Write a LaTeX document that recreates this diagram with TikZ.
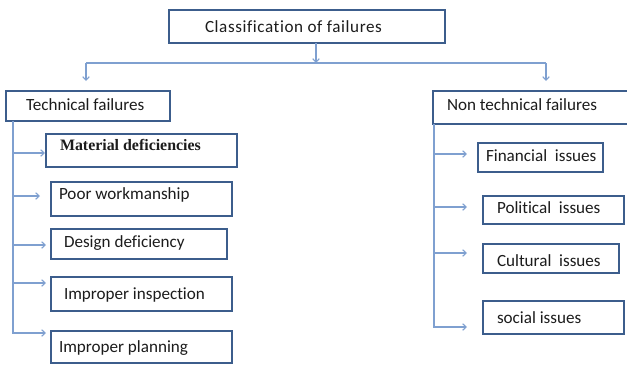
\documentclass[tikz,border=0pt]{standalone}
\usepackage{fontspec}
\setmainfont{Carlito}[Ligatures=NoCommon]
\newfontfamily\serifmat{Liberation Serif}
\usetikzlibrary{arrows.meta}
\definecolor{boxc}{HTML}{3C5D8C}
\definecolor{linec}{HTML}{7FA0D0}
\definecolor{txt}{HTML}{1C1C1C}
\newcommand\bt[2]{\makebox[#1pt][l]{#2}}
\begin{document}
\begin{tikzpicture}[x=1pt,y=-1pt,
  box/.style n args={3}{draw=boxc, line width=1.8pt, fill=white, anchor=north west,
    outer sep=0pt, inner ysep=0pt, inner xsep=#1pt, text height=#2pt, text depth=#3pt,
    text=txt, font=\fontsize{17.1}{18}\selectfont},
  conn/.style={draw=linec, line width=1.1pt},
  arr/.style={conn, -{Straight Barb[length=3.5pt,width=6.5pt,line width=1.1pt]}}]
\useasboundingbox (0,0) rectangle (627,365);

% boxes
\node[box={36}{22}{11}] (cls) at (169,10) {\bt{204}{\addfontfeatures{LetterSpace=3.5}Classification of failures}};
\node[box={20}{19}{11}] (tech) at (6,91) {\bt{124}{Technical failures}};
\node[box={14}{19}{14}] (ntech) at (433,91) {\bt{199}{Non technical failures}};

\node[box={14}{16}{17}] (mat) at (46,134) {\bt{163}{\serifmat\bfseries\fontsize{15.9}{16}\selectfont Material deficiencies}};
\node[box={8}{17}{17}] (poor) at (51,182) {\bt{165}{Poor workmanship}};
\node[box={13}{18}{12}] (des) at (51,229) {\bt{150}{Design deficiency}};
\node[box={13}{22}{12}] (insp) at (51,277) {\bt{155}{Improper inspection}};
\node[box={8}{21}{11}] (plan) at (51,331) {\bt{165}{Improper planning}};

\node[box={8}{18}{11}] (fin) at (478,143) {\bt{109}{Financial\ \ issues}};
\node[box={14}{17}{11}] (pol) at (483,196) {\bt{113}{Political\ \ issues}};
\node[box={14}{22}{7}] (cul) at (483,244) {\bt{108}{Cultural\ \ issues}};
\node[box={14}{22}{11}] (soc) at (483,301) {\bt{113}{social issues}};

% top connectors
\coordinate (jC) at (316,63);
\coordinate (jL) at (86,63);
\coordinate (jR) at (546,63);
\coordinate (tL) at (86,81);
\coordinate (tR) at (546,81);
\draw[arr] ([xshift=9pt]cls.south) -- (jC);
\draw[conn] (jL) -- (jR);
\draw[arr] (jL) -- (tL);
\draw[arr] (jR) -- (tR);

% left spine
\coordinate (sL) at ([xshift=7pt]tech.south west);
\coordinate (a1) at (45,153);
\coordinate (a2) at (40,196);
\coordinate (a3) at (46,245);
\coordinate (a4) at (46,283);
\coordinate (a5) at (46,333);
\foreach \t in {a1,a2,a3,a4,a5} \draw[arr] (sL) |- (\t);

% right spine
\coordinate (sR) at ([xshift=1pt]ntech.south west);
\coordinate (b1) at (467,154);
\coordinate (b2) at (467,207);
\coordinate (b3) at (467,253);
\coordinate (b4) at (467,327);
\foreach \t in {b1,b2,b3,b4} \draw[arr] (sR) |- (\t);
\end{tikzpicture}
\end{document}
